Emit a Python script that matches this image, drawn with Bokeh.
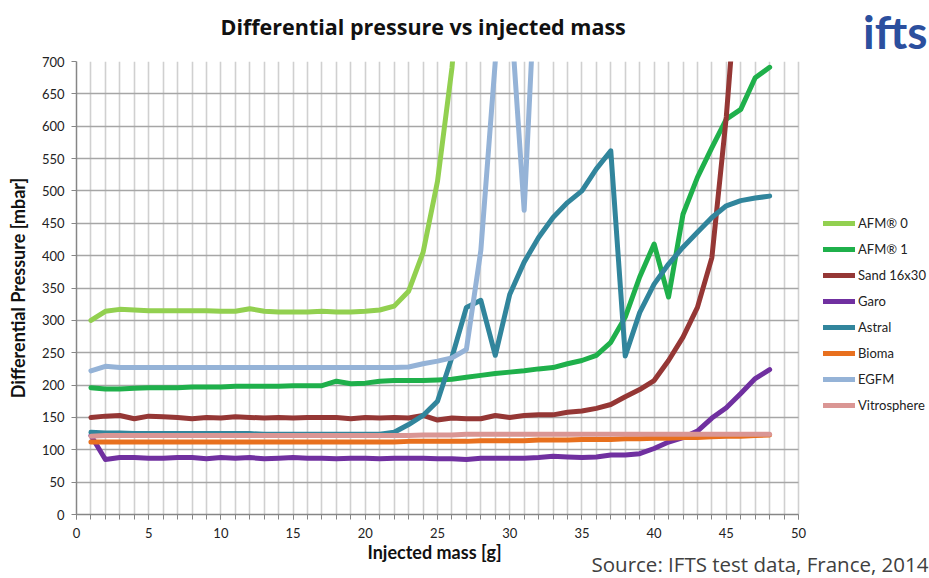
from bokeh.plotting import figure
from bokeh.models import Range1d, SingleIntervalTicker, Legend, LegendItem, Title
from bokeh.embed import file_html
from bokeh.resources import INLINE

# ---------------- data ----------------
mass = [1, 2, 3, 4, 5, 6, 7, 8, 9, 10, 11, 12, 13, 14, 15, 16, 17, 18, 19, 20,
        21, 22, 23, 24, 25, 26, 27, 28, 29, 30, 31, 32, 33, 34, 35, 36, 37, 38, 39, 40,
        41, 42, 43, 44, 45, 46, 47, 48]

afm0 = [300, 314, 317, 316, 315, 315, 315, 315, 315, 314,
        314, 318, 314, 313, 313, 313, 314, 313, 313, 314,
        316, 322, 345, 405, 515, 690, 950]
afm1 = [196, 194, 194, 195, 196, 196, 196, 197, 197, 197,
        198, 198, 198, 198, 199, 199, 199, 206, 202, 203,
        206, 207, 207, 207, 208, 209, 212, 215, 218, 220,
        222, 225, 227, 233, 238, 246, 266, 305, 367, 418,
        336, 464, 521, 567, 611, 626, 675, 691]
sand = [150, 152, 153, 148, 152, 151, 150, 148, 150, 149,
        151, 150, 149, 150, 149, 150, 150, 150, 148, 150,
        149, 150, 149, 153, 146, 149, 148, 148, 153, 150,
        153, 154, 154, 158, 160, 164, 170, 182, 193, 207,
        238, 274, 320, 397, 615, 900]
garo = [122, 85, 88, 88, 87, 87, 88, 88, 86, 88,
        87, 88, 86, 87, 88, 87, 87, 86, 87, 87,
        86, 87, 87, 87, 86, 86, 85, 87, 87, 87,
        87, 88, 90, 89, 88, 89, 92, 92, 94, 102,
        112, 119, 129, 149, 165, 187, 210, 224]
astral = [127, 126, 126, 125, 125, 125, 125, 125, 125, 125,
          125, 125, 124, 124, 124, 124, 124, 124, 124, 124,
          124, 127, 139, 153, 175, 243, 320, 331, 246, 340,
          390, 428, 459, 482, 500, 534, 562, 245, 312, 356,
          387, 413, 436, 459, 477, 485, 489, 492]
bioma = [112, 112, 112, 112, 112, 112, 112, 112, 112, 112,
         112, 112, 112, 112, 112, 112, 112, 112, 112, 112,
         112, 112, 113, 113, 113, 113, 113, 114, 114, 114,
         114, 115, 115, 115, 116, 116, 116, 117, 117, 118,
         118, 119, 119, 120, 121, 121, 122, 123]
egfm = [222, 229, 227, 227, 227, 227, 227, 227, 227, 227,
        227, 227, 227, 227, 227, 227, 227, 227, 227, 227,
        227, 227, 228, 233, 237, 242, 255, 408, 700, 800,
        470, 930]
vitro = [121, 122, 122, 122, 122, 122, 122, 122, 122, 122,
         122, 122, 122, 122, 122, 122, 122, 122, 122, 122,
         122, 122, 122, 123, 123, 123, 124, 124, 124, 124,
         124, 124, 124, 124, 124, 124, 124, 124, 124, 124,
         124, 124, 124, 124, 124, 124, 124, 124]

series_names = ["AFM® 0", "AFM® 1", "Sand 16x30", "Garo", "Astral", "Bioma", "EGFM", "Vitrosphere"]
series_values = [afm0, afm1, sand, garo, astral, bioma, egfm, vitro]
series_colors = ["#92D050", "#1FB04B", "#953735", "#7030A0", "#31859C", "#E8701E", "#95B3D7", "#DA9694"]

x_axis_min, x_axis_max = 0, 50
y_axis_min, y_axis_max = 0, 700
x_ticks_major = 5
y_ticks_major = 50

FONT = "Lato"

# the frame is extended to the right so that the legend (drawn inside the frame) is not clipped
x_view_max = 59.07
p = figure(width=929, height=578, output_backend="svg", toolbar_location=None,
           x_range=Range1d(x_axis_min, x_view_max), y_range=Range1d(y_axis_min, y_axis_max),
           min_border_left=76, min_border_right=0, min_border_top=61, min_border_bottom=64)
p.outline_line_color = None
p.background_fill_color = "white"
p.border_fill_color = "white"

# main title (outermost row of the top panel)
p.title = Title(text="Differential pressure vs injected mass", align="left", offset=144,
                vertical_align="bottom", standoff=-76, text_font="Open Sans",
                text_font_style="bold", text_font_size="21.5px", text_color="#111111")
# logo text (row next to the frame)
p.add_layout(Title(text="ifts", align="right", offset=2, vertical_align="top", standoff=2,
                   text_font=FONT, text_font_style="bold", text_font_size="46px",
                   text_color="#2B4F9E"), "above")

# axes
p.xaxis.ticker = SingleIntervalTicker(interval=x_ticks_major, num_minor_ticks=5)
p.yaxis.ticker = SingleIntervalTicker(interval=y_ticks_major, num_minor_ticks=0)
p.xaxis.bounds = (x_axis_min, x_axis_max)
p.yaxis.bounds = (y_axis_min, y_axis_max)
for ax in (p.xaxis[0], p.yaxis[0]):
    ax.axis_line_color = "#868686"
    ax.axis_line_width = 1.5
    ax.major_tick_line_color = "#868686"
    ax.major_tick_in = 0
    ax.major_tick_out = 5
    ax.major_label_text_font = FONT
    ax.major_label_text_font_size = "13px"
    ax.major_label_text_color = "#222222"
    ax.axis_label_text_font = FONT
    ax.axis_label_text_font_style = "bold"
    ax.axis_label_text_font_size = "18px"
    ax.axis_label_text_color = "#111111"
p.xaxis.minor_tick_line_color = "#868686"
p.xaxis.minor_tick_in = 0
p.xaxis.minor_tick_out = 5
p.yaxis.minor_tick_line_color = None
p.yaxis.axis_label = "Differential Pressure [mbar]"
p.xaxis.major_label_standoff = 8
p.yaxis.major_label_standoff = 7
p.yaxis.axis_label_standoff = 10

# x axis title and source line, as rows of the bottom panel
p.add_layout(Title(text="Injected mass [g]", align="left", offset=291, vertical_align="top",
                   standoff=0, text_font=FONT, text_font_style="bold",
                   text_font_size="18px", text_color="#111111"), "below")
p.add_layout(Title(text="Source: IFTS test data, France, 2014", align="right", offset=1,
                   vertical_align="top", standoff=-30, text_font="Open Sans",
                   text_font_style="normal", text_font_size="20.5px", text_color="#404040"), "below")

# grids (limited to the axis extent)
p.xgrid.ticker = SingleIntervalTicker(interval=1)
p.xgrid.bounds = (x_axis_min, x_axis_max)
p.xgrid.grid_line_color = "#D0D0D0"
p.xgrid.grid_line_width = 1.6
p.ygrid.bounds = (y_axis_min, y_axis_max)
p.ygrid.grid_line_color = "#A6A6A6"
p.ygrid.grid_line_width = 1.6
if "cross_bounds" in p.ygrid[0].properties():
    p.ygrid.cross_bounds = (x_axis_min, x_axis_max)
    p.xgrid.cross_bounds = (y_axis_min, y_axis_max)
else:
    p.ygrid.visible = False
    hy = list(range(y_axis_min, y_axis_max + 1, y_ticks_major))
    p.segment(x0=[x_axis_min] * len(hy), x1=[x_axis_max] * len(hy), y0=hy, y1=hy,
              line_color="#A6A6A6", line_width=1.6)

# series
items = []
for name, vals, col in zip(series_names, series_values, series_colors):
    r = p.line(mass[:len(vals)], vals, line_color=col, line_width=5,
               line_join="round", line_cap="round")
    items.append(LegendItem(label=name, renderers=[r]))

legend = Legend(items=items, location=(747, 99), orientation="vertical",
                glyph_width=32, glyph_height=20, label_height=20, spacing=6,
                padding=0, margin=0, border_line_color=None, background_fill_alpha=0,
                label_text_font=FONT, label_text_font_size="13px", label_standoff=3,
                label_text_color="#222222")
p.add_layout(legend, "center")

open("out.html", "w").write(file_html(p, INLINE))
